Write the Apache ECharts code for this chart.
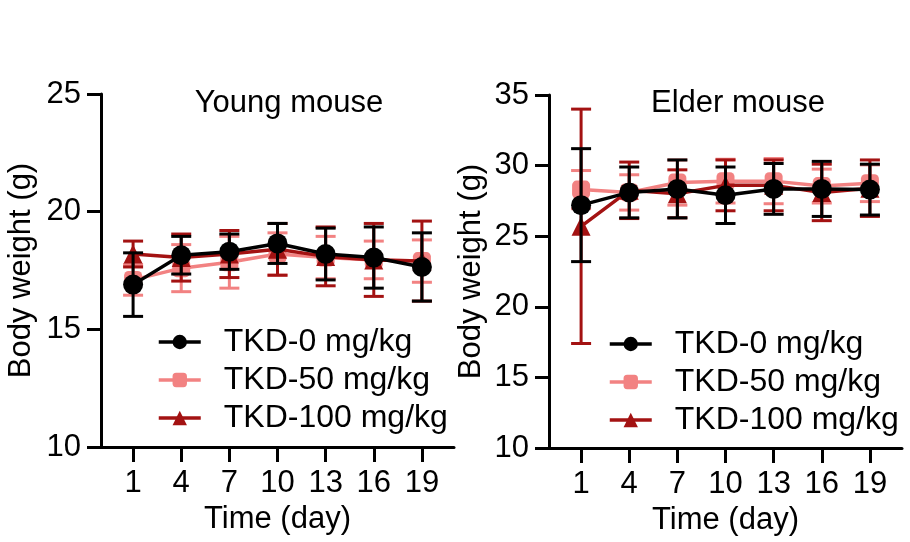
<!DOCTYPE html>
<html>
<head>
<meta charset="utf-8">
<script src="https://cdn.jsdelivr.net/npm/echarts@6/dist/echarts.min.js"></script>
<style>
  html, body { margin: 0; padding: 0; background: #fff; }
  #main { width: 910px; height: 542px; }
</style>
</head>
<body>
<div id="main"></div>
<script>
var days = [1, 4, 7, 10, 13, 16, 19];
var xTicks = [1, 4, 7, 10, 13, 16, 19];
var groupNames = ['TKD-0 mg/kg', 'TKD-50 mg/kg', 'TKD-100 mg/kg'];

// young mouse, mean and SD (g)
var young0 = [16.9, 18.15, 18.3, 18.65, 18.2, 18.05, 17.65];
var young0Sd = [1.35, 0.8, 0.75, 0.85, 1.1, 1.3, 1.45];
var young50 = [17.1, 17.6, 17.85, 18.2, 18.05, 17.95, 17.9];
var young50Sd = [0.65, 1.0, 1.1, 0.9, 0.9, 0.8, 0.9];
var young100 = [18.2, 18.05, 18.2, 18.4, 18.1, 17.95, 17.9];
var young100Sd = [0.55, 1.0, 1.0, 1.1, 1.25, 1.55, 1.7];

// elder mouse, mean and SD (g)
var elder0 = [27.2, 28.1, 28.35, 27.9, 28.35, 28.35, 28.3];
var elder0Sd = [4.0, 1.8, 2.05, 2.0, 1.8, 1.95, 1.8];
var elder50 = [28.3, 28.1, 28.8, 28.9, 28.9, 28.55, 28.75];
var elder50Sd = [1.35, 1.25, 1.6, 1.55, 1.6, 1.2, 1.3];
var elder100 = [25.7, 28.25, 28.0, 28.6, 28.6, 28.1, 28.4];
var elder100Sd = [8.3, 2.0, 1.7, 1.8, 1.8, 2.0, 2.0];

var colors = ['#000000', '#F28282', '#A31212'];
var symbols = ['circle', 'roundRect', 'triangle'];
var symbolSizes = [20, 18, 19];
var font = 'Liberation Sans, Arial, sans-serif';

var chartDom = document.getElementById('main');
var myChart = echarts.init(chartDom);

function pts(mean) {
    return days.map(function (d, i) { return [d, mean[i]]; });
}
function bars(mean, sd) {
    return days.map(function (d, i) { return [d, mean[i] - sd[i], mean[i] + sd[i]]; });
}

function errorRender(params, api) {
    var x = api.value(0);
    var lo = api.coord([x, api.value(1)]);
    var hi = api.coord([x, api.value(2)]);
    var w = 10;
    var st = { stroke: api.visual('color'), lineWidth: 3 };
    return {
        type: 'group',
        children: [
            { type: 'line', shape: { x1: lo[0], y1: lo[1], x2: hi[0], y2: hi[1] }, style: st },
            { type: 'line', shape: { x1: hi[0] - w, y1: hi[1], x2: hi[0] + w, y2: hi[1] }, style: st },
            { type: 'line', shape: { x1: lo[0] - w, y1: lo[1], x2: lo[0] + w, y2: lo[1] }, style: st }
        ]
    };
}

function xAxisOf(idx) {
    return {
        gridIndex: idx, type: 'value', min: -1, max: 21,
        name: 'Time (day)', nameLocation: 'middle', nameGap: 52,
        nameTextStyle: { fontSize: 31, color: '#000', fontFamily: font },
        axisLine: { onZero: false, lineStyle: { color: '#000', width: 3 } },
        axisTick: { length: 15, lineStyle: { width: 3, color: '#000' }, customValues: xTicks },
        axisLabel: { fontSize: 31, color: '#000', fontFamily: font, margin: 21, customValues: xTicks },
        splitLine: { show: false }
    };
}

function yAxisOf(idx, min, max, gap) {
    return {
        gridIndex: idx, type: 'value', min: min, max: max, interval: 5,
        name: 'Body weight (g)', nameLocation: 'middle', nameGap: gap,
        nameTextStyle: { fontSize: 31, color: '#000', fontFamily: font },
        axisLine: { show: true, onZero: false, lineStyle: { color: '#000', width: 3 } },
        axisTick: { show: true, length: 14, lineStyle: { width: 3, color: '#000' } },
        axisLabel: { fontSize: 31, color: '#000', fontFamily: font, margin: 20 },
        splitLine: { show: false }
    };
}

var youngSets = [[young0, young0Sd], [young50, young50Sd], [young100, young100Sd]];
var elderSets = [[elder0, elder0Sd], [elder50, elder50Sd], [elder100, elder100Sd]];

var series = [];
// draw order: pink, dark red, black on top
[1, 2, 0].forEach(function (g, order) {
    [youngSets, elderSets].forEach(function (sets, idx) {
        series.push({
            name: 'err' + g + '_' + idx, type: 'custom',
            xAxisIndex: idx, yAxisIndex: idx,
            renderItem: errorRender, data: bars(sets[g][0], sets[g][1]),
            encode: { x: 0, y: [1, 2] },
            itemStyle: { color: colors[g] }, z: 2 + order * 2, silent: true
        });
        series.push({
            name: groupNames[g], type: 'line',
            xAxisIndex: idx, yAxisIndex: idx,
            data: pts(sets[g][0]),
            symbol: symbols[g], symbolSize: symbolSizes[g],
            lineStyle: { color: colors[g], width: 3.5 },
            itemStyle: { color: colors[g] },
            z: 3 + order * 2
        });
    });
});

var legendBase = {
    orient: 'vertical', itemWidth: 42, itemHeight: 18, itemGap: 6,
    data: groupNames,
    lineStyle: { width: 3.5 },
    textStyle: { fontSize: 32, color: '#000', fontFamily: font, lineHeight: 28, padding: [0, 0, 0, 18] }
};

var option = {
    animation: false,
    title: [
        { text: 'Young mouse', left: 284, top: 83, textAlign: 'center',
          textStyle: { fontSize: 31, fontWeight: 'normal', color: '#000', fontFamily: font } },
        { text: 'Elder mouse', left: 733, top: 83, textAlign: 'center',
          textStyle: { fontSize: 31, fontWeight: 'normal', color: '#000', fontFamily: font } }
    ],
    legend: [
        Object.assign({}, legendBase, { left: 152, top: 321 }),
        Object.assign({}, legendBase, { left: 603, top: 323 })
    ],
    grid: [
        { left: 101, top: 94, width: 353, height: 353 },
        { left: 549, top: 95, width: 353, height: 353 }
    ],
    xAxis: [xAxisOf(0), xAxisOf(1)],
    yAxis: [yAxisOf(0, 10, 25, 64), yAxisOf(1, 10, 35, 62)],
    series: series
};

option && myChart.setOption(option);
</script>
</body>
</html>
